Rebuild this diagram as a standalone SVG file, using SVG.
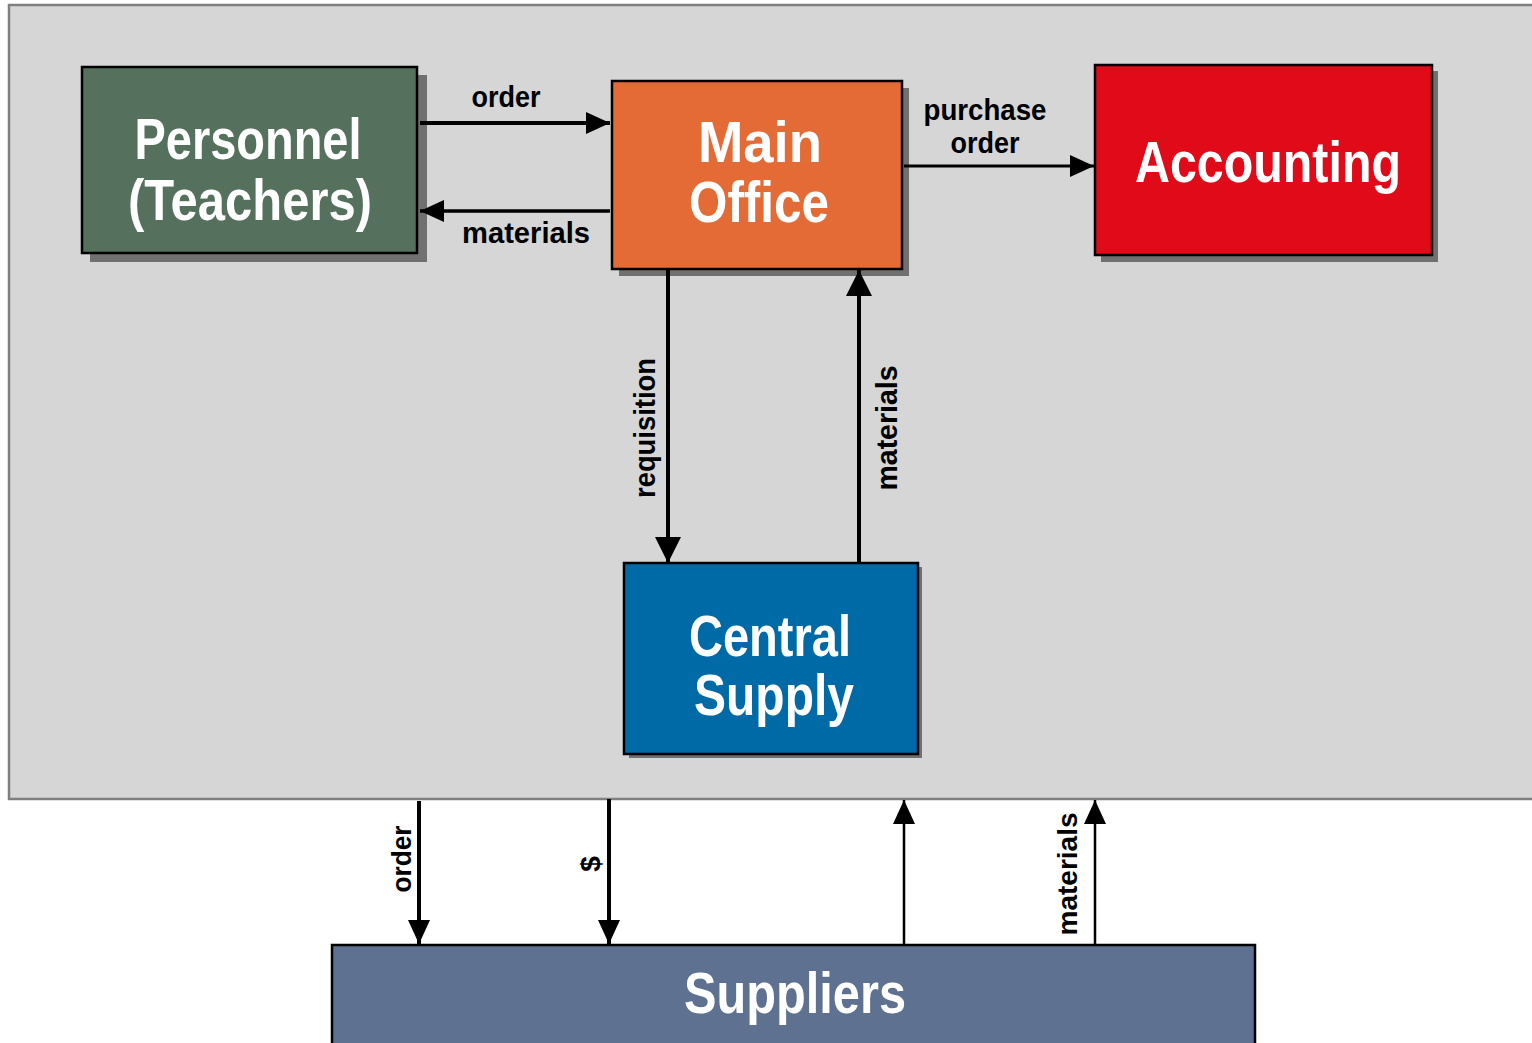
<svg xmlns="http://www.w3.org/2000/svg" width="1532" height="1043" viewBox="0 0 1532 1043">
<defs>
<style>
.shadow{fill:#707070}
.box{stroke:#000;stroke-width:2.5}
.big{font-family:"Liberation Sans",Arial,sans-serif;font-weight:bold;fill:#fff;font-size:58px;text-anchor:middle}
.lbl{font-family:"Liberation Sans",Arial,sans-serif;font-weight:bold;fill:#000;font-size:30px;text-anchor:middle}
.c{fill:none;stroke:#000}
</style>
<marker id="ah" markerUnits="userSpaceOnUse" markerWidth="26" markerHeight="24" refX="24" refY="11" orient="auto" viewBox="0 0 26 24">
<path d="M0,0 L24,11 L0,22 Z" fill="#000"/>
</marker>
<marker id="ahL" markerUnits="userSpaceOnUse" markerWidth="28" markerHeight="28" refX="26" refY="13" orient="auto" viewBox="0 0 28 28">
<path d="M0,0 L26,13 L0,26 Z" fill="#000"/>
</marker>
</defs>
<rect width="1532" height="1043" fill="#fff"/>
<rect id="panel" x="9" y="5" width="1530" height="794" fill="#d6d6d6" stroke="#7f7f7f" stroke-width="2.5"/>

<g id="personnel">
<rect class="shadow" x="90" y="75" width="337" height="187"/>
<rect class="box" x="82" y="67" width="335" height="186" fill="#56705e"/>
<text class="big" x="248" y="159" textLength="227" lengthAdjust="spacingAndGlyphs">Personnel</text>
<text class="big" x="250" y="220" textLength="244" lengthAdjust="spacingAndGlyphs">(Teachers)</text>
</g>

<g id="main-office">
<rect class="shadow" x="619" y="88" width="290" height="188"/>
<rect class="box" x="612" y="81" width="290" height="188" fill="#e56b36"/>
<text class="big" x="760" y="162" textLength="124" lengthAdjust="spacingAndGlyphs">Main</text>
<text class="big" x="759" y="222" textLength="140" lengthAdjust="spacingAndGlyphs">Office</text>
</g>

<g id="accounting">
<rect class="shadow" x="1101" y="71" width="337" height="191"/>
<rect class="box" x="1095" y="65" width="337" height="190" fill="#e10a19"/>
<text class="big" x="1268" y="182" textLength="266" lengthAdjust="spacingAndGlyphs">Accounting</text>
</g>

<g id="central-supply">
<rect class="shadow" x="629" y="567" width="293" height="191"/>
<rect class="box" x="624" y="563" width="294" height="191" fill="#006aa6"/>
<text class="big" x="770" y="656" textLength="162" lengthAdjust="spacingAndGlyphs">Central</text>
<text class="big" x="774" y="715" textLength="160" lengthAdjust="spacingAndGlyphs">Supply</text>
</g>

<g id="suppliers">
<rect class="box" x="332" y="945" width="923" height="110" fill="#5e7191"/>
<text class="big" x="795" y="1013" textLength="222" lengthAdjust="spacingAndGlyphs">Suppliers</text>
</g>

<g id="connectors">
<line class="c" x1="420" y1="123" x2="610" y2="123" stroke-width="4" marker-end="url(#ah)"/>
<line class="c" x1="610" y1="211" x2="420" y2="211" stroke-width="3.5" marker-end="url(#ah)"/>
<line class="c" x1="904" y1="166" x2="1094" y2="166" stroke-width="3" marker-end="url(#ah)"/>
<line class="c" x1="668" y1="270" x2="668" y2="563" stroke-width="4" marker-end="url(#ahL)"/>
<line class="c" x1="859" y1="563" x2="859" y2="270" stroke-width="4" marker-end="url(#ahL)"/>
<line class="c" x1="419" y1="801" x2="419" y2="944" stroke-width="4" marker-end="url(#ah)"/>
<line class="c" x1="609" y1="799" x2="609" y2="944" stroke-width="4" marker-end="url(#ah)"/>
<line class="c" x1="904" y1="944" x2="904" y2="800" stroke-width="2.5" marker-end="url(#ah)"/>
<line class="c" x1="1095" y1="944" x2="1095" y2="800" stroke-width="2.5" marker-end="url(#ah)"/>

<text class="lbl" x="506" y="107" textLength="69" lengthAdjust="spacingAndGlyphs">order</text>
<text class="lbl" x="526" y="243" textLength="128" lengthAdjust="spacingAndGlyphs">materials</text>
<text class="lbl" x="985" y="120" textLength="123" lengthAdjust="spacingAndGlyphs">purchase</text>
<text class="lbl" x="985" y="153" textLength="69" lengthAdjust="spacingAndGlyphs">order</text>
<text class="lbl" transform="translate(655,428) rotate(-90)" textLength="140" lengthAdjust="spacingAndGlyphs">requisition</text>
<text class="lbl" transform="translate(897,428) rotate(-90)" textLength="125" lengthAdjust="spacingAndGlyphs">materials</text>
<text class="lbl" style="font-size:28px" transform="translate(411,859) rotate(-90)" textLength="67" lengthAdjust="spacingAndGlyphs">order</text>
<text class="lbl" style="font-size:28px" transform="translate(600,864) rotate(-90)">$</text>
<text class="lbl" style="font-size:28px" transform="translate(1077,874) rotate(-90)" textLength="123" lengthAdjust="spacingAndGlyphs">materials</text>
</g>
</svg>
